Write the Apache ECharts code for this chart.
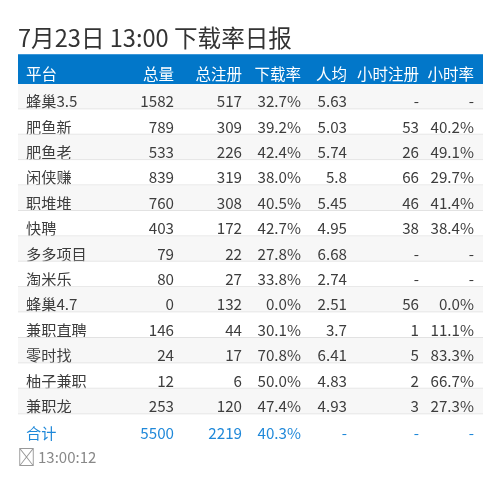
<!DOCTYPE html>
<html><head><meta charset="utf-8">
<style>html,body{margin:0;padding:0;background:#fff}#c{width:500px;height:490px}</style>
<script src="https://cdn.jsdelivr.net/npm/echarts@6/dist/echarts.min.js"></script>
</head><body><div id="c"></div>
<script>
const titleText = '7月23日 13:00 下载率日报';
const footerIcon = '\uE000';
const footerTime = '13:00:12';
const headers = ['平台','总量','总注册','下载率','人均','小时注册','小时率'];
const platforms = ['蜂巢3.5','肥鱼新','肥鱼老','闲侠赚','职堆堆','快聘','多多项目','淘米乐','蜂巢4.7','兼职直聘','零时找','柚子兼职','兼职龙','合计'];
const totals = ['1582','789','533','839','760','403','79','80','0','146','24','12','253','5500'];
const registers = ['517','309','226','319','308','172','22','27','132','44','17','6','120','2219'];
const downloadRates = ['32.7%','39.2%','42.4%','38.0%','40.5%','42.7%','27.8%','33.8%','0.0%','30.1%','70.8%','50.0%','47.4%','40.3%'];
const averages = ['5.63','5.03','5.74','5.8','5.45','4.95','6.68','2.74','2.51','3.7','6.41','4.83','4.93','-'];
const hourRegisters = ['-','53','26','66','46','38','-','-','56','1','5','2','3','-'];
const hourRates = ['-','40.2%','49.1%','29.7%','41.4%','38.4%','-','-','0.0%','11.1%','83.3%','66.7%','27.3%','-'];

const columns = [platforms, totals, registers, downloadRates, averages, hourRegisters, hourRates];
const FONT = '"Noto Sans CJK SC"';
const colX = [26,174,242,301,347,419,474];
const L = 18, R = 483, W = R - L;
const lastRow = platforms.length - 1;

const chart = echarts.init(document.getElementById('c'), null, {renderer:'canvas'});
chart.setOption({
  animation:false,
  grid:{left:L, top:84, width:W, height:25.4*platforms.length},
  xAxis:{type:'value', min:0, max:1, show:false},
  yAxis:{type:'category', inverse:true, show:false, data:platforms},
  graphic:[
    {type:'text', x:18, y:38, style:{text:titleText, font:'23.6px '+FONT, fill:'#333', verticalAlign:'middle'}},
    {type:'rect', shape:{x:L,y:54,width:W,height:30}, style:{fill:'#0277c9'}},
    {type:'rect', shape:{x:L,y:54,width:W,height:1}, style:{fill:'#3c97d8'}},
    ...headers.map((h,c)=>({type:'text', x:colX[c], y:74.5,
      style:{text:h, font:'15.5px '+FONT, fill:'#fff', align:c===0?'left':'right', verticalAlign:'middle'}})),
    {type:'text', x:38, y:457, style:{text:footerTime, font:'15px '+FONT, fill:'#888', verticalAlign:'middle'}},
    {type:'text', x:17.5, y:457, style:{text:footerIcon, font:'18px '+FONT, fill:'#999', verticalAlign:'middle'}}
  ],
  series:[{
    type:'custom',
    coordinateSystem:'cartesian2d',
    clip:false,
    encode:{x:0,y:1},
    data:platforms.map((p,i)=>[0,i]),
    renderItem:function(params, api){
      const i = api.value(1);
      const pt = api.coord([0,i]);
      const bh = api.size([0,1])[1];
      const top = pt[1]-bh/2;
      const isTotal = i===lastRow;
      const color = isTotal ? '#1f88d9' : '#3d3d3d';
      const kids = [];
      if(!isTotal){
        kids.push({type:'rect', z2:i*3, shape:{x:L,y:top,width:W,height:bh},
          style:{fill:i%2===0?'#f7f7f7':'#ffffff'}});
      }
      columns.forEach((col,c)=>{
        kids.push({type:'text', z2:i*3+1, x:colX[c], y:top+bh/2+(isTotal?6:4.8),
          style:{text:col[i], fill:color, font:'15.2px '+FONT,
                 align:c===0?'left':'right', verticalAlign:'middle'}});
      });
      if(!isTotal){
        kids.push({type:'rect', z2:i*3+2, shape:{x:L,y:top+bh-1,width:W,height:1},
          style:{fill:i===lastRow-1?'#e8e8e8':'#e2e2e2'}});
      }
      return {type:'group', children:kids};
    }
  }]
});
</script></body></html>
